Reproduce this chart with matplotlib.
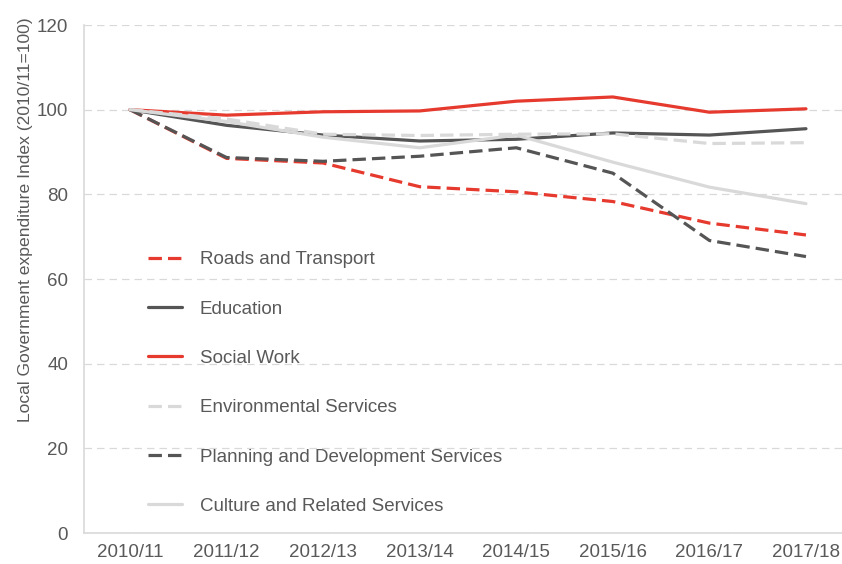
import matplotlib.pyplot as plt
import numpy as np

plt.rcParams["font.family"] = ["Liberation Sans", "DejaVu Sans"]

years = ["2010/11", "2011/12", "2012/13", "2013/14", "2014/15", "2015/16", "2016/17", "2017/18"]

roads = [100, 88.5, 87.4, 81.8, 80.6, 78.3, 73.2, 70.4]
education = [100, 96.3, 94.0, 92.6, 93.0, 94.5, 94.0, 95.5]
social_work = [100, 98.7, 99.5, 99.7, 102.0, 103.0, 99.4, 100.2]
environmental = [100, 97.8, 94.2, 93.9, 94.2, 94.3, 92.0, 92.2]
planning = [100, 88.7, 87.8, 89.0, 91.0, 85.0, 69.1, 65.3]
culture = [100, 97.2, 93.5, 91.0, 94.0, 87.6, 81.7, 77.8]

RED = "#e63a2e"
DARK = "#555555"
LIGHT = "#d9d9d9"
TEXT = "#595959"

series = [
    ("Roads and Transport", roads, RED, True),
    ("Education", education, DARK, False),
    ("Social Work", social_work, RED, False),
    ("Environmental Services", environmental, LIGHT, True),
    ("Planning and Development Services", planning, DARK, True),
    ("Culture and Related Services", culture, LIGHT, False),
]

fig = plt.figure(figsize=(8.42, 5.64), dpi=100)
ax = fig.add_axes([84 / 842, 1 - 533 / 564, 1 - 84 / 842, (533 - 25) / 564])

x = np.arange(len(years))
for name, vals, color, dashed in series:
    line, = ax.plot(x, vals, color=color, lw=2.3, label=name, solid_capstyle="round")
    if dashed:
        line.set_dashes((4.2, 1.9))

ax.set_xlim(-0.476, 7.373)
ax.set_ylim(0, 120)
ax.set_yticks(range(0, 121, 20))
ax.set_xticks(x)
ax.set_xticklabels(years)
ax.tick_params(length=0, labelsize=13.5, labelcolor=TEXT)
ax.tick_params(axis="x", pad=8)
ax.tick_params(axis="y", pad=11.5)
ax.grid(axis="y", color="#d9d9d9", linestyle=(0, (6, 4)), lw=0.9)
ax.set_axisbelow(True)
for s in ["top", "right"]:
    ax.spines[s].set_visible(False)
for s in ["left", "bottom"]:
    ax.spines[s].set_color("#d9d9d9")
    ax.spines[s].set_linewidth(1.2)

ax.set_ylabel("Local Government expenditure Index (2010/11=100)", fontsize=12.6, color=TEXT)
ax.yaxis.set_label_coords(-0.067, (533 - 220) / 508)

ax.legend(loc="upper left", bbox_to_anchor=(148 / 842, 1 - 251 / 564), bbox_transform=fig.transFigure,
          frameon=False, fontsize=13.5, labelcolor=TEXT, handlelength=1.8, handletextpad=0.95,
          labelspacing=1.72, borderpad=0, borderaxespad=0)

fig.savefig("out.png", dpi=100)
